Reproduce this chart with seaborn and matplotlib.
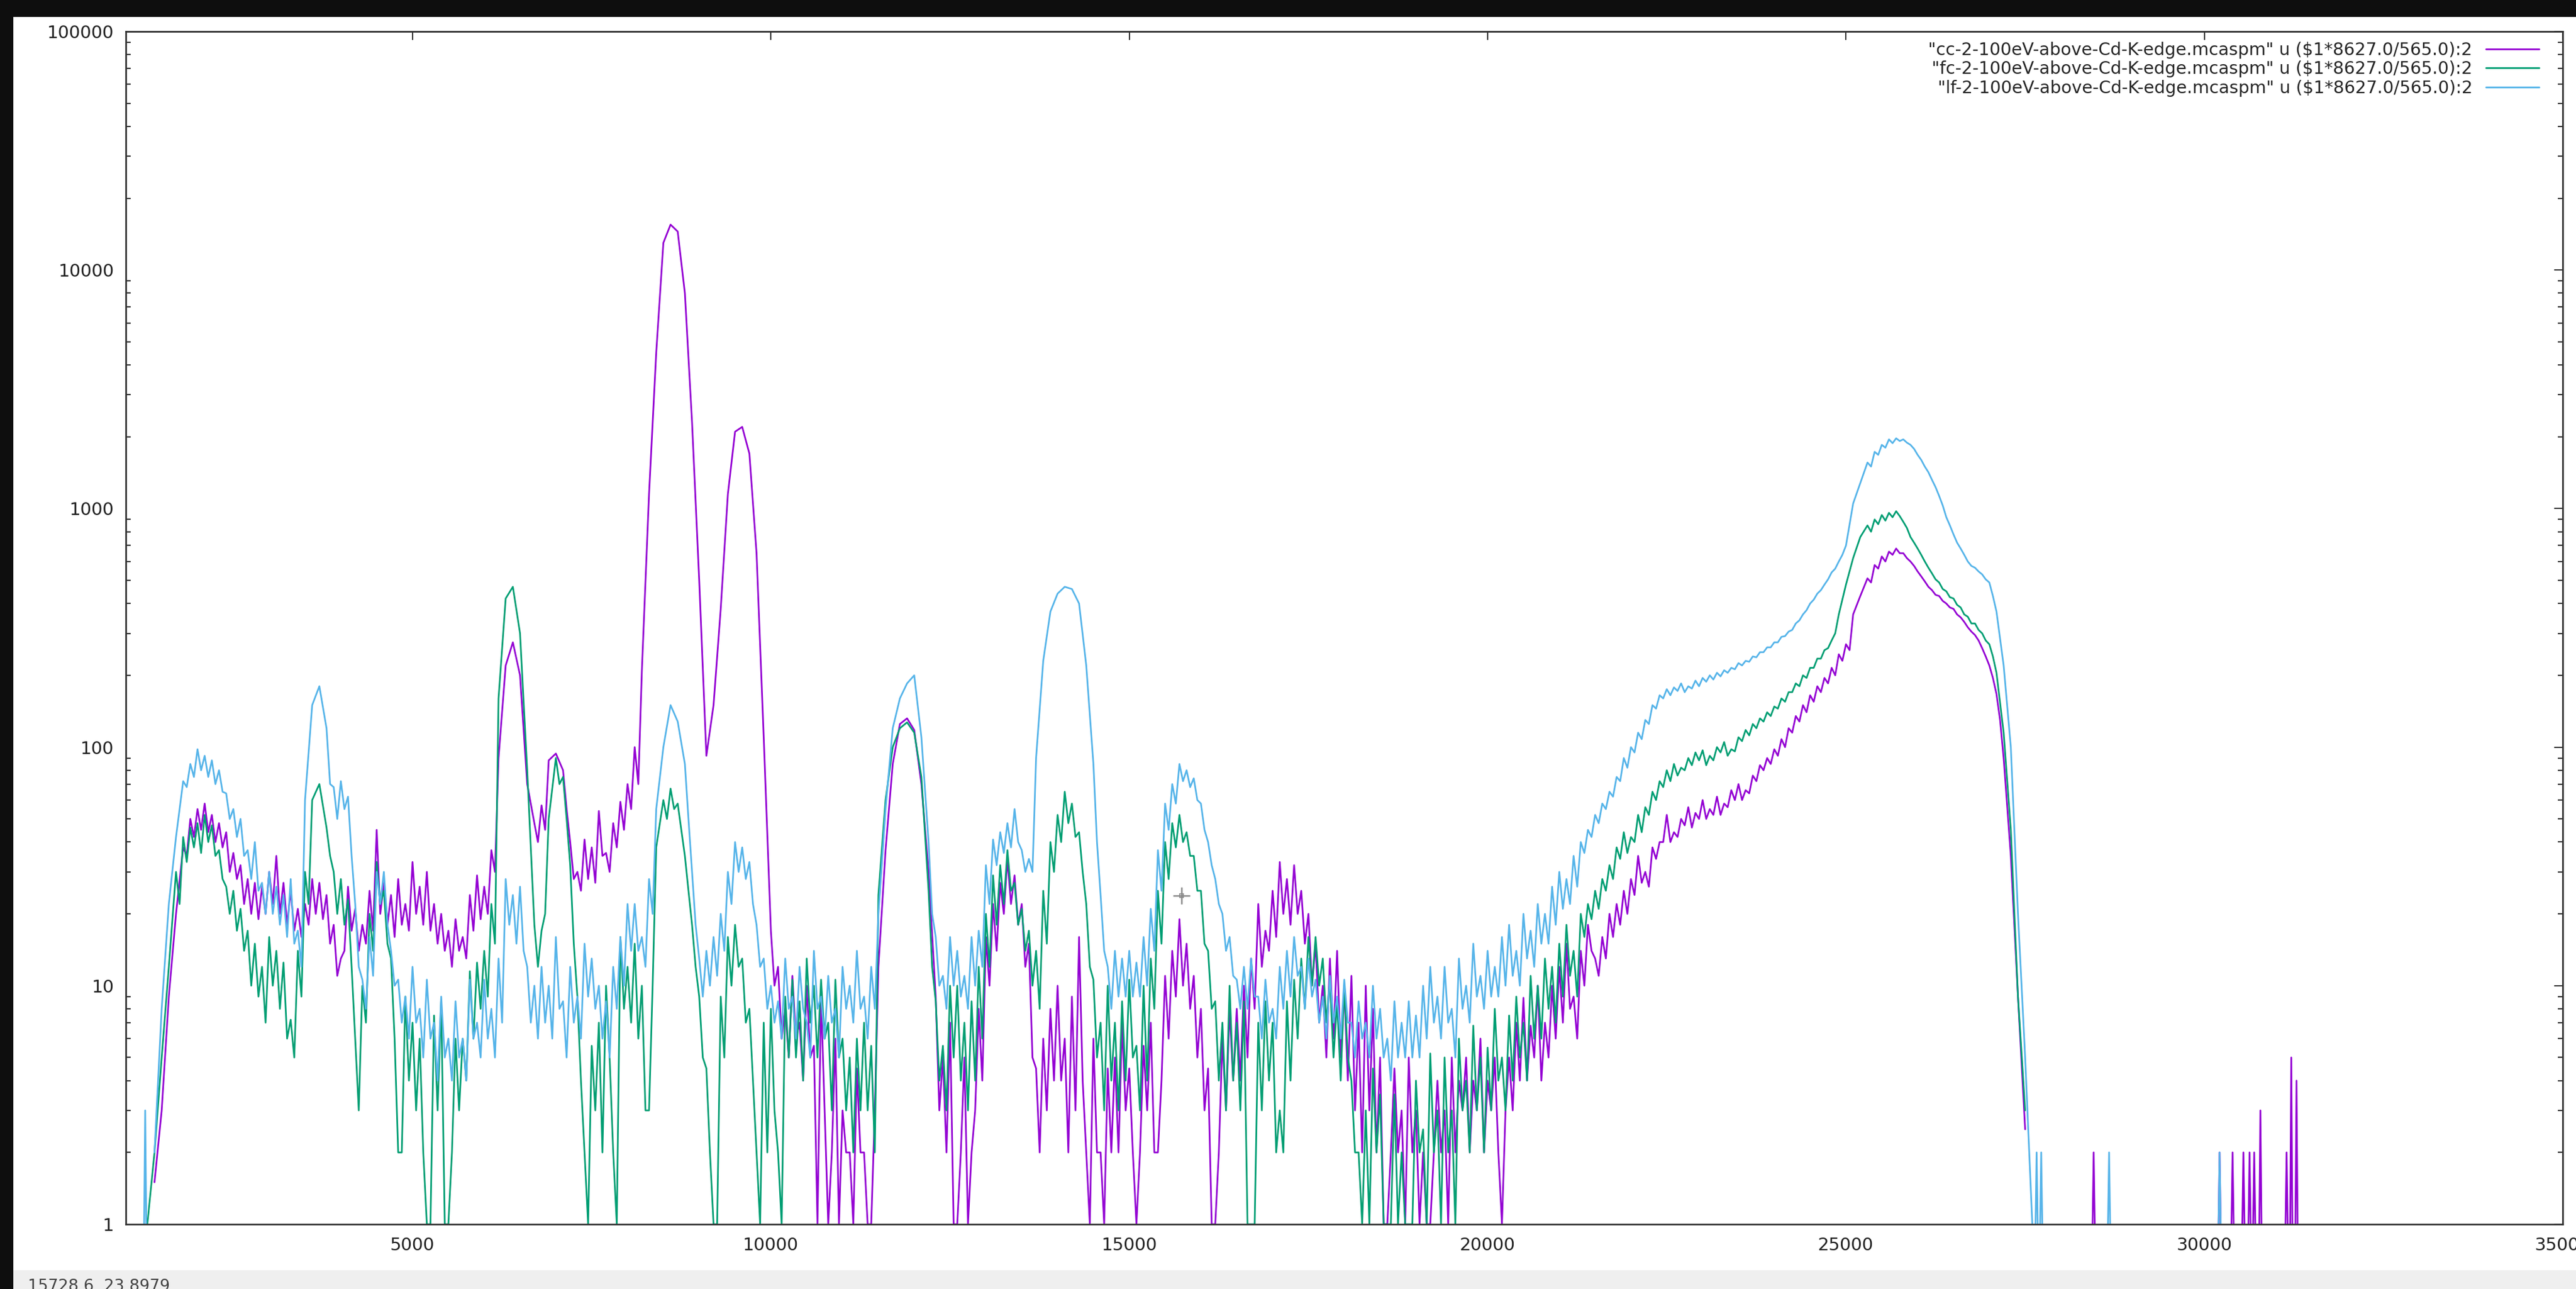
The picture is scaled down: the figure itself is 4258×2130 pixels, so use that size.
import numpy as np
import pandas as pd
import seaborn as sns
import matplotlib.pyplot as plt
from matplotlib.lines import Line2D
from matplotlib.patches import Rectangle
from matplotlib.ticker import MultipleLocator, LogLocator, FuncFormatter, NullFormatter

nan = np.nan

# energy grid (eV), one value every 100 eV;
# the *_lo lists hold the bottom of the noise band 50 eV further on
energy = np.arange(1300, 27700, 100)

# "cc" spectrum (purple)
cc = [
    nan, 1.5, 3, 9, 20, 38, 50, 55, 58, 52,
    48, 44, 36, 32, 28, 27, 26, 30, 35, 27,
    25, 21, 22, 28, 27, 24, 18, 13, 26, 21,
    18, 25, 45, 27, 24, 28, 22, 33, 26, 30,
    22, 20, 17, 19, 16, 24, 29, 26, 37, 90,
    220, 275, 200, 70, 48, 57, 88, 94, 80, 40,
    30, 41, 38, 54, 36, 48, 59, 70, 100, 210,
    1150, 4500, 13000, 15500, 14500, 8000, 2300, 500, 92, 150,
    380, 1150, 2100, 2200, 1700, 650, 110, 17, 12, 8,
    11, 7, 10, 5.6, 9, 1, 6, 3, 2, 4.5,
    2, 1, 12, 37, 85, 125, 132, 118, 70, 30,
    9, 5, 7, 1, 5, 2, 8, 16, 22, 27,
    34, 29, 22, 15, 4.5, 6, 8, 10, 6, 9,
    16, 2, 6, 2, 4.5, 5, 7, 4.5, 1, 5.6,
    7, 2, 11, 14, 19, 15, 11, 8, 4.5, 1,
    6, 8, 8, 10, 13, 22, 17, 25, 33, 28,
    32, 25, 20, 15, 10, 13, 14, 10, 11, 7,
    10, 8, 5, 1, 4.5, 3, 5, 3, 2, 1,
    4, 3, 5, 4, 5, 4, 6, 4, 5, 1,
    5, 7, 8.9, 6.8, 10, 7, 10, 12, 15, 9,
    14, 18, 13, 16, 20, 22, 25, 28, 35, 30,
    38, 40, 52, 44, 50, 56, 53, 60, 55, 62,
    58, 66, 70, 66, 76, 84, 90, 98, 108, 120,
    135, 150, 165, 180, 195, 215, 245, 270, 360, 430,
    510, 580, 630, 660, 680, 650, 600, 545, 495, 455,
    430, 400, 380, 350, 318, 295, 260, 220, 167, 90,
    35, 9, 2.5, nan,
]
cc_lo = [
    nan, nan, nan, nan, nan, 35, 42, 45, 44, 40,
    38, 30, 28, 22, 20, 19, 20, 22, 20, 18,
    17, 16, 18, 20, 19, 15, 11, 14, 17, 14,
    15, 17, 20, 18, 16, 18, 17, 20, 18, 17,
    15, 14, 12, 14, 13, 17, 19, 20, 30, nan,
    nan, nan, nan, nan, 40, 45, nan, nan, 55, 28,
    25, 28, 27, 35, 30, 38, 45, 55, 70, nan,
    nan, nan, nan, nan, nan, nan, nan, nan, nan, nan,
    nan, nan, nan, nan, nan, nan, nan, 10, 6, 5,
    6, 4, 5, 1, 3, 2, 1, 2, 1, 2,
    1, 3, nan, nan, nan, nan, nan, nan, nan, nan,
    3, 2, 1, 2, 1, 3, 4, 10, 14, 20,
    22, 18, 12, 5, 2, 3, 4, 4, 2, 3,
    4, 1, 2, 1, 2, 2, 3, 2, 2, 3,
    2, 4, 6, 9, 10, 8, 5, 3, 1, 2,
    3, 4, 4, 5, 8, 12, 14, 16, 20, 18,
    20, 15, 10, 7, 5, 6, 5, 4, 3, 2,
    3, 2, 1, 2, 2, 1, 2, 1, 1, 2,
    2, 1, 2, 3, 2, 3, 2, 3, 2, 3,
    3, 4, 4, 5, 4, 5, 6, 7, 8, 6,
    10, 14, 11, 13, 16, 18, 20, 24, 27, 26,
    34, 40, 40, 42, 47, 46, 50, 50, 52, 52,
    56, 60, 60, 64, 72, 80, 85, 92, 100, 115,
    128, 140, 155, 170, 185, 200, 230, 255, nan, nan,
    490, 560, 600, 640, 650, 620, 575, 520, 470, 435,
    410, 385, 360, 335, 305, 280, 240, 195, 130, nan,
    nan, nan, nan, nan,
]

# "fc" spectrum (green)
fc = [
    1, 2, 5, 12, 30, 42, 46, 48, 52, 47,
    37, 26, 25, 21, 17, 15, 12, 16, 14, 12.5,
    7.2, 14, 30, 60, 70, 46, 30, 28, 23, 6,
    10, 20, 33, 25, 13, 2, 9, 7, 6, 1,
    7.5, 8.6, 1, 6, 6, 11.5, 12.5, 14, 22, 160,
    420, 470, 300, 80, 18, 17, 50, 90, 75, 32,
    9, 2, 5.6, 7, 10, 2, 16, 12, 15, 10,
    3, 38, 60, 67, 58, 35, 18, 9, 4.5, 1,
    9, 16, 18, 13, 8, 2, 7, 8, 2, 9,
    10.6, 8.6, 13, 10, 10.6, 7, 10.6, 6, 5, 6,
    7, 5.6, 24, 60, 100, 120, 127, 115, 75, 25,
    8.6, 5.6, 10, 10, 7, 8.6, 12, 20, 29, 32,
    37, 27, 21, 17, 14, 25, 40, 52, 65, 58,
    44, 22, 10.6, 7, 10, 7, 8.6, 10.6, 5.6, 10,
    13, 25, 40, 48, 52, 44, 35, 25, 14, 8.6,
    7, 10, 7, 8.6, 1, 7, 8.6, 7, 3, 8.6,
    10.6, 13, 16, 16, 13, 10.6, 8.6, 10, 4, 2,
    3, 4.5, 3.5, 1, 3.5, 2, 1, 4, 2.5, 5.2,
    3, 5, 3, 6, 4, 6.8, 5, 5.5, 8, 5,
    7.5, 9, 7, 11, 10, 13, 12, 15, 18, 14,
    20, 22, 25, 28, 32, 38, 44, 42, 52, 56,
    65, 72, 80, 85, 82, 90, 95, 97, 92, 100,
    105, 98, 110, 118, 125, 132, 140, 148, 160, 170,
    185, 200, 215, 235, 255, 280, 360, 480, 620, 760,
    850, 900, 940, 960, 975, 880, 760, 680, 600, 535,
    490, 450, 420, 385, 352, 330, 300, 270, 205, 115,
    45, 9, 3, nan,
]
fc_lo = [
    nan, nan, nan, nan, 22, 33, 38, 36, 40, 35,
    28, 20, 17, 14, 10, 9, 7, 10, 8, 6,
    5, 9, 22, nan, nan, 35, 20, 18, 12, 3,
    7, 14, 22, 15, 6, 2, 4, 3, 2, 1,
    3, 1, 2, 3, 4, 6, 8, 9, 15, nan,
    nan, nan, nan, nan, 12, 20, nan, 70, 50, 15,
    4, 1, 3, 2, 5, 1, 8, 7, 6, 3,
    10, nan, 50, 55, 45, 25, 12, 5, 2, 1,
    5, 10, 12, 7, 4, 1, 2, 3, 1, 5,
    5, 4, 7, 5, 6, 3, 5, 3, 2, 3,
    3, 2, nan, nan, nan, nan, nan, nan, nan, 12,
    4, 3, 5, 4, 3, 4, 6, 12, 18, 22,
    25, 18, 14, 10, 8, 15, 30, 40, 48, 42,
    30, 12, 5, 3, 4, 3, 4, 5, 3, 4,
    8, 15, 28, 38, 40, 35, 25, 15, 8, 4,
    3, 4, 3, 1, 1, 3, 4, 2, 2, 4,
    6, 8, 10, 10, 7, 5, 4, 5, 2, 1,
    1, 2, 1, 1, 1, 1, 1, 2, 1, 2,
    1, 2, 1, 3, 2, 3, 2, 3, 4, 3,
    4, 5, 4, 6, 6, 8, 7, 9, 11, 9,
    16, 19, 21, 25, 28, 34, 36, 40, 44, 52,
    60, 68, 72, 76, 80, 84, 88, 84, 88, 95,
    92, 96, 106, 112, 120, 128, 135, 145, 155, 170,
    180, 195, 215, 235, 260, 300, nan, nan, nan, nan,
    800, 860, 890, 920, 930, 830, 720, 640, 565, 505,
    460, 425, 395, 360, 330, 310, 280, 240, nan, nan,
    nan, nan, nan, nan,
]

# "lf" spectrum (light blue)
lf = [
    nan, 2, 8, 22, 42, 72, 85, 98, 92, 88,
    80, 64, 55, 50, 37, 40, 27, 30, 26, 24,
    28, 17, 60, 150, 180, 120, 68, 72, 62, 22,
    10.6, 16, 30, 30, 14, 10.6, 9, 12, 8, 10.6,
    7, 9, 6, 8.6, 6, 10.6, 7, 10.6, 8, 13,
    28, 24, 26, 12, 10, 12, 10, 16, 8.6, 12,
    9, 15, 13, 10, 8.6, 12, 16, 22, 22, 16,
    28, 55, 100, 150, 128, 85, 30, 13, 14, 16,
    20, 30, 40, 38, 33, 18, 13, 10, 8.6, 13,
    9, 12, 7, 14, 9, 11, 8, 12, 10, 14,
    9, 12, 20, 55, 120, 160, 185, 200, 110, 40,
    16, 11, 16, 14, 11, 16, 17, 32, 41, 44,
    48, 55, 37, 34, 90, 230, 370, 440, 470, 460,
    400, 220, 85, 24, 12, 14, 13, 14, 12.5, 16,
    21, 37, 58, 70, 85, 80, 74, 58, 40, 28,
    20, 16, 10.6, 12, 13, 9, 10.6, 8, 12, 14,
    16, 12, 13, 10.6, 9, 11, 9, 10.6, 7, 8.6,
    7, 10, 8, 6, 8.6, 7, 8.6, 7.5, 10, 12,
    9, 12, 8, 13, 10, 15, 11, 14, 12, 16,
    18, 14, 20, 17, 22, 20, 26, 30, 28, 35,
    40, 45, 52, 58, 65, 75, 90, 100, 115, 130,
    150, 165, 175, 178, 185, 180, 190, 195, 200, 205,
    210, 215, 225, 230, 240, 250, 262, 275, 290, 305,
    330, 360, 400, 440, 480, 540, 600, 700, 1050, 1280,
    1560, 1730, 1850, 1950, 1970, 1950, 1850, 1680, 1500, 1320,
    1130, 920, 780, 680, 600, 565, 530, 490, 370, 220,
    100, 20, 5, 1,
]
lf_lo = [
    nan, nan, nan, nan, 55, 68, 75, 80, 75, 70,
    65, 50, 42, 35, 28, 25, 20, 20, 18, 16,
    15, 12, nan, nan, nan, 70, 50, 55, 35, 12,
    8, 11, 22, 18, 10, 7, 6, 7, 5, 6,
    4, 5, 4, 5, 4, 6, 5, 6, 5, 7,
    18, 15, 14, 7, 6, 7, 6, 8, 5, 7,
    6, 9, 8, 6, 5, 8, 10, 14, 14, 12,
    20, nan, nan, nan, nan, 50, 18, 9, 10, 11,
    14, 22, 30, 28, 22, 12, 8, 7, 6, 8,
    6, 8, 5, 8, 6, 7, 5, 8, 7, 8,
    6, 8, nan, nan, nan, nan, nan, nan, nan, 20,
    10, 8, 10, 9, 8, 10, 12, 22, 32, 36,
    38, 40, 30, 30, nan, nan, nan, nan, nan, nan,
    nan, nan, 40, 14, 8, 9, 9, 9, 9, 10,
    14, 25, 45, 58, 72, 68, 60, 45, 32, 22,
    14, 11, 8, 8, 9, 6, 7, 6, 8, 9,
    11, 8, 9, 7, 6, 7, 6, 7, 5, 6,
    5, 6, 5, 4, 5, 5, 5, 5, 6, 7,
    6, 7, 5, 8, 7, 9, 8, 9, 9, 10,
    11, 10, 13, 12, 15, 15, 18, 21, 22, 26,
    36, 42, 48, 55, 62, 72, 82, 95, 108, 125,
    145, 160, 165, 172, 170, 176, 180, 188, 192, 198,
    205, 212, 220, 228, 238, 250, 262, 275, 292, 310,
    340, 375, 415, 455, 505, 560, 640, nan, nan, nan,
    1500, 1680, 1800, 1880, 1920, 1890, 1780, 1600, 1420, 1230,
    1030, 850, 720, 640, 575, 545, 505, 430, nan, nan,
    nan, nan, nan, nan,
]

# isolated single-channel counts (energy, height)
cc_spike_e = [28456, 30213, 30394, 30545, 30631, 30696, 30782, 31148, 31213, 31286]
cc_spike_h = [2, 2, 2, 2, 2, 2, 3, 2, 5, 4]
fc_spike_e = []
fc_spike_h = []
lf_spike_e = [1270, 27660, 27724, 28671, 30213]
lf_spike_h = [3, 2, 2, 2, 2]

labels = [
    '"cc-2-100eV-above-Cd-K-edge.mcaspm" u ($1*8627.0/565.0):2',
    '"fc-2-100eV-above-Cd-K-edge.mcaspm" u ($1*8627.0/565.0):2',
    '"lf-2-100eV-above-Cd-K-edge.mcaspm" u ($1*8627.0/565.0):2',
]
colors = ["#9400d3", "#009e73", "#56b4e9"]
cursor = (15728.6, 23.8979)

# build a long table; every spike is its own line segment
frames = []
seg = 0
for name, vals, lo, se, sh in zip(
    labels,
    [cc, fc, lf],
    [cc_lo, fc_lo, lf_lo],
    [cc_spike_e, fc_spike_e, lf_spike_e],
    [cc_spike_h, fc_spike_h, lf_spike_h],
):
    main = pd.DataFrame({
        "energy": np.concatenate([energy, energy + 50]),
        "counts": np.concatenate([vals, lo]),
    }).dropna().sort_values("energy")
    main["file"] = name
    main["seg"] = seg
    frames.append(main)
    seg += 1
    for e, h in zip(se, sh):
        frames.append(pd.DataFrame({"energy": [e - 15, e, e + 15], "counts": [1, h, 1],
                                    "file": name, "seg": seg}))
        seg += 1
df = pd.concat(frames, ignore_index=True)

sns.set_style("white")
plt.rcParams["font.family"] = ["DejaVu Sans"]

W, H = 4258, 2130
fig = plt.figure(figsize=(W / 100, H / 100), dpi=100, facecolor="#0e0e0e")
# window background and status bar
fig.patches.append(Rectangle((22 / W, 0), 1, (H - 28) / H, transform=fig.transFigure,
                             facecolor="white", edgecolor="none", zorder=-2))
fig.patches.append(Rectangle((22 / W, 0), 1, 31 / H, transform=fig.transFigure,
                             facecolor="#efefef", edgecolor="none", zorder=-1))
fig.text(46 / W, 17 / H, f"{cursor[0]}, {cursor[1]}", va="top", ha="left",
         fontsize=19, color="#444444")

ax = fig.add_axes([208 / W, (H - 2023) / H, (4236 - 208) / W, (2023 - 52) / H])
ax.patch.set_alpha(0)
sns.lineplot(
    data=df, x="energy", y="counts", hue="file", hue_order=labels,
    palette=dict(zip(labels, colors)), units="seg", estimator=None,
    sort=False, lw=2.0, legend=False, ax=ax,
)
ax.plot(*cursor, marker="+", ms=20, mew=1.8, color="#8a8a8a", zorder=5)
ax.plot(*cursor, marker="s", ms=4, mew=1.2, mfc="none", color="#8a8a8a", zorder=5)

ax.set_yscale("log")
ax.set_xlim(1000, 35000)
ax.set_ylim(1, 100000)
ax.set_xlabel("")
ax.set_ylabel("")

ax.xaxis.set_major_locator(MultipleLocator(5000))
ax.yaxis.set_major_locator(LogLocator(base=10, numticks=10))
ax.yaxis.set_minor_locator(LogLocator(base=10, subs=range(2, 10), numticks=10))
ax.yaxis.set_minor_formatter(NullFormatter())
ax.yaxis.set_major_formatter(FuncFormatter(lambda v, _: f"{v:g}"))

ax.tick_params(axis="both", which="major", direction="in", top=True, right=True,
               length=10, width=1.5, color="#333333", labelsize=21,
               labelcolor="#222222")
ax.tick_params(axis="x", which="major", pad=15)
ax.tick_params(axis="y", which="major", pad=14)
ax.tick_params(axis="y", which="minor", direction="in", left=True, right=True,
               length=6, width=1.5, color="#333333")
for s in ax.spines.values():
    s.set_linewidth(2)
    s.set_color("#333333")

handles = [Line2D([], [], color=c, lw=2.0) for c in colors]
ax.legend(
    handles, labels, loc="upper right", bbox_to_anchor=(1 - 39 / 4028, 1 - 17 / 1971),
    markerfirst=False, frameon=False, fontsize=20.5, borderpad=0, borderaxespad=0,
    handlelength=3.1, handletextpad=0.77, labelspacing=0.12,
)

fig.savefig("out.png", dpi=100, facecolor=fig.get_facecolor())
